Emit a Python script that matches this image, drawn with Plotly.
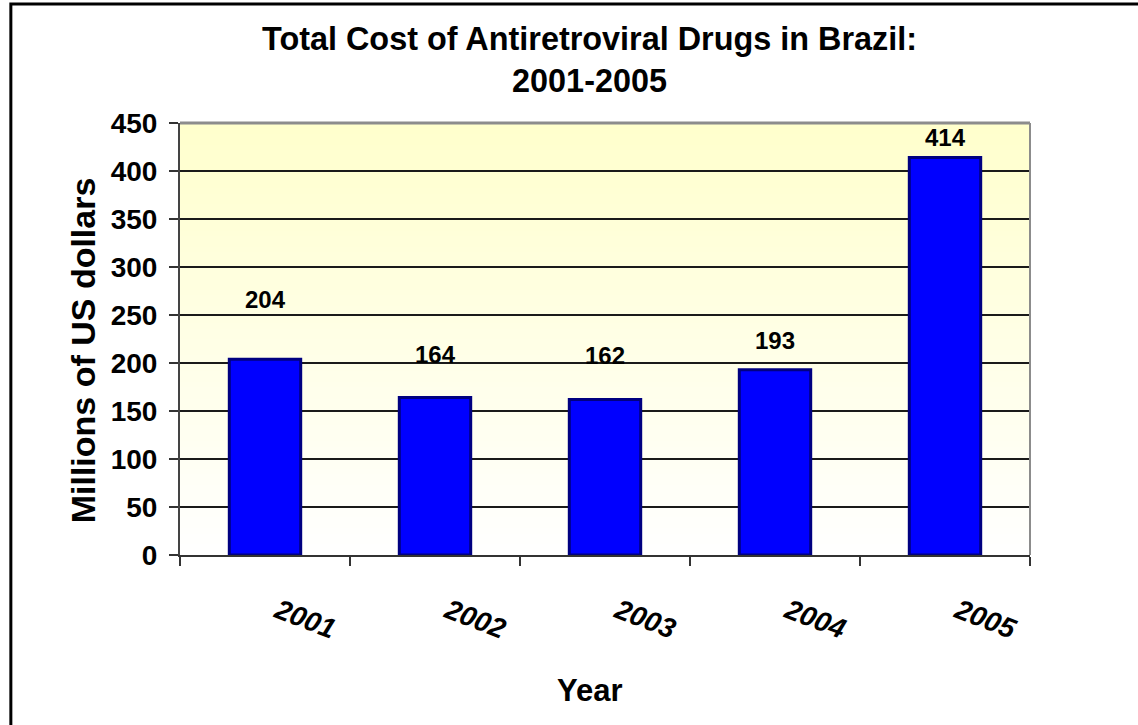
import plotly.graph_objects as go

years = ["2001", "2002", "2003", "2004", "2005"]
costs = [204, 164, 162, 193, 414]
y_ticks = [0, 50, 100, 150, 200, 250, 300, 350, 400, 450]
label_offsets_px = [44, 28, 28, 14, 5]

FONT = "Liberation Sans, Arial, sans-serif"

fig = go.Figure()
fig.add_trace(go.Bar(
    x=years, y=costs, width=0.42,
    marker=dict(color="#0000FF", line=dict(color="#000080", width=3)),
    hoverinfo="x+y",
))

# data labels (x given as category index)
for i, (v, off) in enumerate(zip(costs, label_offsets_px)):
    fig.add_annotation(x=i, y=v, xref="x", yref="y", text=str(v), showarrow=False, yanchor="bottom",
                       yshift=off, font=dict(family=FONT, size=24, color="black", weight="bold"))

# gradient plot background (yellow -> white)
n = 80
top = (255, 255, 204)
for i in range(n):
    t = (i + 0.5) / n
    r = int(round(255 + (top[0] - 255) * t))
    g = int(round(255 + (top[1] - 255) * t))
    b = int(round(255 + (top[2] - 255) * t))
    fig.add_shape(type="rect", xref="x domain", yref="y domain",
                  x0=0, x1=1, y0=i / n, y1=(i + 1) / n + 0.002,
                  fillcolor=f"rgb({r},{g},{b})", line_width=0, layer="below")

# plot frame top/right in gray
fig.add_shape(type="line", xref="x domain", yref="y domain", x0=0, x1=1, y0=1, y1=1,
              line=dict(color="#8c8c8c", width=3), layer="above")
fig.add_shape(type="line", xref="x domain", yref="y domain", x0=1, x1=1, y0=0, y1=1,
              line=dict(color="#8c8c8c", width=2), layer="above")

# outer chart border (cropped on right/bottom)
fig.add_shape(type="rect", xref="paper", yref="paper", x0=-0.199, x1=1.6, y0=-1.0, y1=1.2755,
              line=dict(color="black", width=3), fillcolor="rgba(0,0,0,0)", layer="above")

# title
fig.add_annotation(xref="paper", yref="paper", x=0.482, y=1.146, xanchor="center", yanchor="middle",
                   text="Total Cost of Antiretroviral Drugs in Brazil:<br>2001-2005", showarrow=False,
                   font=dict(family=FONT, size=32.4, color="black", weight="bold"))
# axis titles
fig.add_annotation(xref="paper", yref="paper", x=0.482, y=-0.313, xanchor="center", yanchor="middle",
                   text="Year", showarrow=False,
                   font=dict(family=FONT, size=31, color="black", weight="bold"))
fig.add_annotation(xref="paper", yref="paper", x=-0.114, y=0.474, xanchor="center", yanchor="middle",
                   text="Millions of US dollars", showarrow=False, textangle=-90,
                   font=dict(family=FONT, size=34, color="black", weight="bold"))

fig.update_layout(
    width=1138, height=725,
    margin=dict(l=180, r=108, t=123, b=170),
    paper_bgcolor="white", plot_bgcolor="rgba(0,0,0,0)",
    showlegend=False,
)
fig.update_xaxes(
    type="category", categoryorder="array", categoryarray=years, range=[-0.5, 4.5],
    showline=True, linecolor="#333333", linewidth=2,
    ticks="outside", tickson="boundaries", ticklen=9, tickcolor="#333333", tickwidth=1.5,
    tickangle=21, ticklabelstandoff=27, ticklabelshift=13,
    tickfont=dict(family=FONT, size=28, color="black", weight="bold", style="italic"),
    showgrid=False, zeroline=False,
)
fig.update_yaxes(
    range=[0, 450], tickvals=y_ticks, ticktext=[str(v) for v in y_ticks],
    showline=True, linecolor="#444444", linewidth=2,
    ticks="outside", ticklen=9, tickcolor="#333333", tickwidth=1.5,
    ticklabelstandoff=6,
    tickfont=dict(family=FONT, size=28, color="black", weight="bold"),
    showgrid=True, gridcolor="#1a1a1a", gridwidth=1.5, zeroline=False,
)

fig.write_html("out.html")
